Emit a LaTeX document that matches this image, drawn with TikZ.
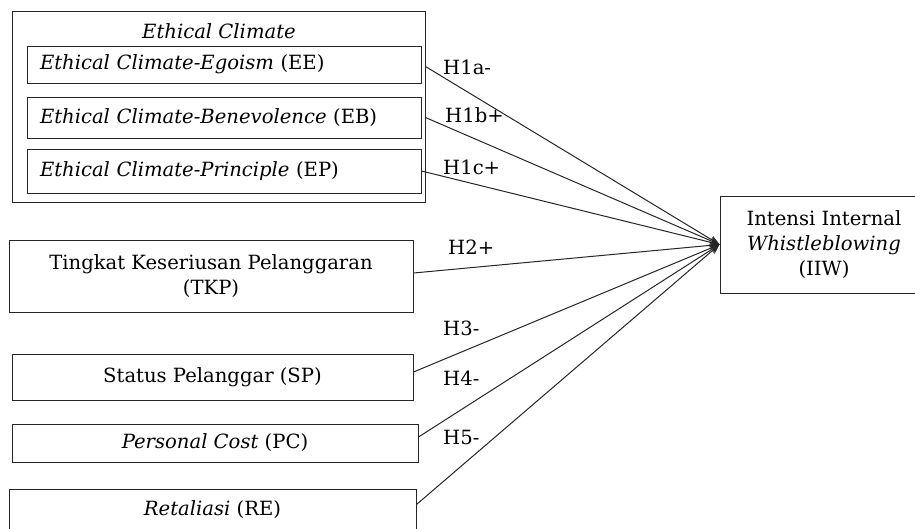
\documentclass[tikz,border=0pt]{standalone}
\usepackage{fontspec}
\setmainfont{DejaVu Serif}
\usetikzlibrary{arrows.meta,calc}
\begin{document}
\begin{tikzpicture}[x=1pt,y=-1pt,
  box/.style={draw=black!85,line width=1pt,inner sep=0pt},
  txt/.style={font=\fontsize{19.6}{25}\selectfont},
  hyp/.style={font=\fontsize{19.6}{25}\selectfont,anchor=west,inner sep=0pt},
  conn/.style={draw=black!85,line width=1pt,-{Stealth[length=10pt,width=8pt]}}]
\useasboundingbox (0,0) rectangle (915,528);
\clip (0,0) rectangle (915,528);
% outer group
\node[box,minimum width=413,minimum height=191] (EC) at (218.5,107) {};
\node[txt,inner sep=0pt] (ECt) at (219,31) {\itshape Ethical Climate};
\node[box,txt,minimum width=394,minimum height=37,text width=368,inner xsep=13pt,align=left] (EE) at (224,64.5) {\textit{Ethical Climate-Egoism} (EE)};
\node[box,txt,minimum width=394,minimum height=41,text width=368,inner xsep=13pt,align=left] (EB) at (224,117.5) {\textit{Ethical Climate-Benevolence} (EB)};
\node[box,txt,minimum width=394,minimum height=44,text width=368,inner xsep=13pt,align=left] (EP) at (224,171) {\textit{Ethical Climate-Principle} (EP)};
% other predictors
\node[box,txt,minimum width=404,minimum height=72,align=center] (TKP) at (211,276) {Tingkat Keseriusan Pelanggaran\\(TKP)};
\node[box,txt,minimum width=401,minimum height=46] (SP) at (212.5,377) {Status Pelanggar (SP)};
\node[box,txt,minimum width=406,minimum height=38] (PC) at (215,443) {\textit{Personal Cost} (PC)};
\node[box,txt,minimum width=407,minimum height=42] (RE) at (212.5,510) {\textit{Retaliasi} (RE)};
% outcome
\node[box,txt,minimum width=196,minimum height=97,align=center] (IIW) at (818,244.5) {\hspace*{12pt}Intensi Internal\\\hspace*{12pt}\textit{Whistleblowing}\\\hspace*{12pt}(IIW)};
\coordinate (tip) at (IIW.west);
% connectors
\draw[conn] (EE.east -| EC.east) ++(0,2) -- (tip);
\draw[conn] (EB.east -| EC.east) -- (tip);
\draw[conn] (EP.east) -- (tip);
\draw[conn] (TKP.east) ++(0,-3) -- (tip);
\draw[conn] (SP.east) ++(0,-5) -- (tip);
\draw[conn] (PC.east) ++(0,-6) -- (tip);
\draw[conn] (RE.north east) ++(0,16) -- (tip);
% labels
\node[hyp] (l1a) at (443,67) {H1a-};
\node[hyp] (l1b) at (445,115) {H1b+};
\node[hyp] (l1c) at (443,167) {H1c+};
\node[hyp] (l2) at (448,247) {H2+};
\node[hyp] (l3) at (443,328) {H3-};
\node[hyp] (l4) at (443,378) {H4-};
\node[hyp] (l5) at (443,437) {H5-};
\end{tikzpicture}
\end{document}
